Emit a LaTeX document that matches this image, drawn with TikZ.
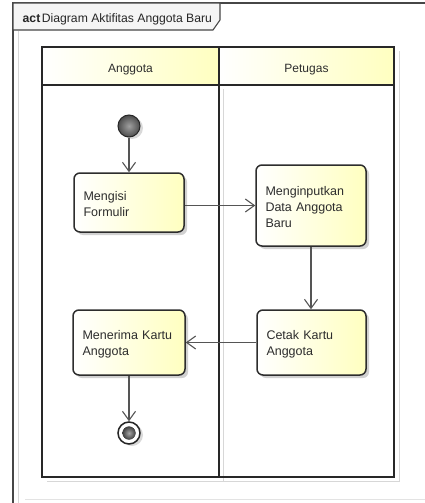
\documentclass[tikz,border=0pt]{standalone}
\usepackage{fontspec}
\setmainfont{Liberation Sans}
\usetikzlibrary{arrows.meta,shadows,calc}
\definecolor{paleyellow}{RGB}{255,255,192}
\definecolor{laneline}{RGB}{40,40,40}
\definecolor{boxline}{RGB}{45,45,45}
\definecolor{flowline}{RGB}{85,85,85}
\definecolor{framecol}{RGB}{70,70,70}
\definecolor{textcol}{RGB}{45,45,45}
\definecolor{softshadow}{RGB}{215,215,215}
\begin{document}
\begin{tikzpicture}[x=1pt,y=-1pt,
  labelfont/.style={font=\fontsize{12}{16}\selectfont, text=textcol},
  titlefont/.style={font=\fontsize{12.2}{16}\selectfont, text=black!85},
  action/.style={font=\fontsize{12.5}{16}\selectfont, text=textcol,
    draw=boxline, line width=1.5pt, rounded corners=6pt,
    left color=white, right color=paleyellow, align=left,
    inner xsep=9.5pt, inner ysep=0pt,
    execute at begin node={\rule{0pt}{13pt}},
    drop shadow={shadow xshift=3pt, shadow yshift=-3pt, fill=black, opacity=0.18}},
  flow/.style={draw=flowline, line width=1.1pt,
    -{Straight Barb[length=9pt,width=13pt,line width=1.1pt]}},
  lane/.style={draw=laneline, line width=2pt},
  header/.style={left color=white, right color=paleyellow}]
  \useasboundingbox (0,0) rectangle (425,503);
  \fill[white] (0,0) rectangle (425,503);

  % diagram frame and its name tab
  \draw[softshadow, line width=0.8pt] (18,31) -- (18,503);
  \draw[softshadow!70, line width=0.8pt] (25,499) -- (425,499);
  \draw[framecol, line width=1.2pt] (13,503) -- (13,3) -- (425,3);
  \draw[framecol, line width=1.1pt, fill=white!96!black]
    (13,3) -- (220,3) -- (220,20) -- (213,30) -- (13,30) -- cycle;
  \node[titlefont, anchor=base west, inner sep=0pt] (title) at (22.5,22.5)
    {\textbf{act}\hspace{1.5pt}Diagram Aktifitas Anggota Baru};

  % swimlanes
  \draw[softshadow, line width=1pt] (47,481) -- (399,481) -- (399,51);
  \draw[softshadow, line width=1pt] (223,89) -- (223,481);
  \fill[header] (42,47) rectangle (219,85);
  \fill[header] (219,47) rectangle (394,85);
  \draw[lane] (42,47) rectangle (394,477);
  \draw[lane] (42,85) -- (394,85);
  \draw[lane] (219,47) -- (219,477);
  \node[labelfont, anchor=base] (laneA) at (130.5,73) {Anggota};
  \node[labelfont, anchor=base] (laneB) at (306.5,73) {Petugas};

  % initial node
  \node[circle, minimum size=22pt, inner sep=0pt, draw=black!85, line width=1pt,
    inner color=gray!75, outer color=black!70,
    drop shadow={shadow xshift=3pt, shadow yshift=-2pt, fill=black, opacity=0.15}]
    (start) at (129,126) {};

  % actions
  \node[action, text width=91pt, minimum height=59pt] (f1) at (129,202.5)
    {Mengisi\\Formulir};
  \node[action, text width=91pt, minimum height=81pt] (f2) at (311,205.5)
    {Menginputkan\\Data~Anggota\\Baru};
  \node[action, text width=90pt, minimum height=65pt] (f3) at (311.5,342.5)
    {Cetak~Kartu\\Anggota};
  \node[action, text width=93pt, minimum height=65pt] (f4) at (129,342.5)
    {Menerima~Kartu\\Anggota};

  % final node
  \node[circle, minimum size=22pt, inner sep=0pt, draw=black!85, line width=1.5pt,
    fill=white,
    drop shadow={shadow xshift=3pt, shadow yshift=-2pt, fill=black, opacity=0.15}]
    (stop) at (129,433) {};
  \fill[inner color=gray!70, outer color=black!75] (stop.center) circle (6.5pt);

  % control flows
  \draw[flow] (start) -- (f1);
  \draw[flow] (f1.east |- f2.center) -- (f2.west);
  \draw[flow] (f2.south) -- (f2.south |- f3.north);
  \draw[flow] (f3.west) -- (f3.west -| f4.east);
  \draw[flow] (f4) -- (stop);
\end{tikzpicture}
\end{document}
